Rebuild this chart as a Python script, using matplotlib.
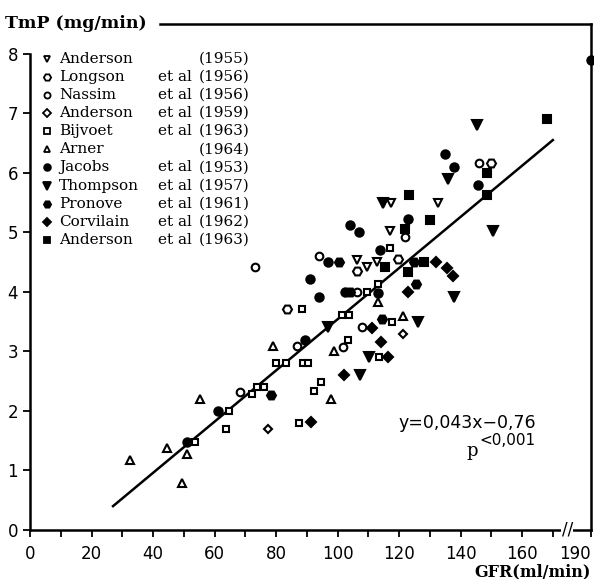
import numpy as np
import matplotlib.pyplot as plt

# Legend rows: author, "et al" flag, year
names = ['Anderson', 'Longson', 'Nassim', 'Anderson', 'Bijvoet', 'Arner',
         'Jacobs', 'Thompson', 'Pronove', 'Corvilain', 'Anderson']
etal = [False, True, True, True, True, False, True, True, True, True, True]
years = ['1955', '1956', '1956', '1959', '1963', '1964',
         '1953', '1957', '1961', '1962', '1963']

# GFR (ml/min) and TmP (mg/min) per study
anderson55_x = [106.3, 109.6, 112.8, 117.0, 117.5, 132.7]
anderson55_y = [4.53, 4.41, 4.50, 5.03, 5.50, 5.50]
longson_x = [83.6, 106.3, 119.7, 150.0]
longson_y = [3.71, 4.35, 4.56, 6.17]
nassim_x = [68.3, 73.2, 86.8, 94.0, 101.8, 106.3, 108.0, 122.0, 146.0]
nassim_y = [2.32, 4.41, 3.09, 4.60, 3.07, 3.99, 3.41, 4.92, 6.17]
anderson59_x = [77.4, 121.3]
anderson59_y = [1.69, 3.29]
bijvoet_x = [53.7, 64.7, 63.7, 72.2, 73.8, 76.1, 80.0, 83.2, 88.5, 88.8, 90.4,
             87.5, 92.4, 94.6, 103.4, 101.4, 103.7, 109.6, 113.2, 117.1, 113.5, 117.7]
bijvoet_y = [1.48, 2.00, 1.69, 2.28, 2.40, 2.40, 2.80, 2.80, 3.71, 2.80, 2.80,
             1.80, 2.33, 2.48, 3.20, 3.61, 3.61, 3.99, 4.13, 4.73, 2.90, 3.49]
arner_x = [32.5, 44.6, 49.3, 51.0, 55.3, 79.0, 97.9, 98.9, 113.2, 121.3]
arner_y = [1.18, 1.37, 0.79, 1.27, 2.20, 3.09, 2.20, 3.00, 3.83, 3.60]
jacobs_x = [51.2, 61.0, 89.4, 91.1, 94.0, 96.9, 102.5, 104.0, 107.0, 113.8,
            113.2, 123.0, 135.0, 137.9, 145.7, 190.0]
jacobs_y = [1.48, 2.00, 3.20, 4.21, 3.91, 4.50, 4.00, 5.12, 5.00, 4.70,
            3.98, 5.22, 6.31, 6.09, 5.80, 7.89]
thompson_x = [96.9, 107.3, 110.2, 126.2, 137.9, 114.8, 136.0, 145.4, 150.6]
thompson_y = [3.41, 2.60, 2.90, 3.49, 3.91, 5.50, 5.89, 6.80, 5.03]
pronove_x = [78.3, 100.5, 104.0, 114.5, 124.9, 125.5]
pronove_y = [2.26, 4.50, 4.00, 3.55, 4.50, 4.14]
corvilain_x = [91.4, 102.1, 111.2, 114.1, 116.4, 122.9, 132.0, 135.6, 137.6]
corvilain_y = [1.81, 2.60, 3.39, 3.15, 2.90, 3.99, 4.50, 4.40, 4.26]
anderson63_x = [115.4, 122.9, 122.0, 123.3, 128.1, 130.0, 148.6, 148.6, 168.1]
anderson63_y = [4.41, 4.33, 5.05, 5.62, 4.50, 5.20, 6.00, 5.62, 6.91]

# regression printed on the chart
slope, intercept = 0.043, -0.76
fit_range = [27, 170]

series = [(anderson55_x, anderson55_y), (longson_x, longson_y), (nassim_x, nassim_y),
          (anderson59_x, anderson59_y), (bijvoet_x, bijvoet_y), (arner_x, arner_y),
          (jacobs_x, jacobs_y), (thompson_x, thompson_y), (pronove_x, pronove_y),
          (corvilain_x, corvilain_y), (anderson63_x, anderson63_y)]
styles = [('v', False, 6), ('H', False, 6.5), ('o', False, 5.5), ('D', False, 4.5),
          ('s', False, 5), ('^', False, 6), ('o', True, 6), ('v', True, 6.5),
          ('H', True, 6.5), ('D', True, 5), ('s', True, 5.5)]


# broken x axis: 170 -> 190 squeezed
def fwd(x):
    x = np.asarray(x, float)
    return np.where(x <= 170, x, 170 + (x - 170) * 0.62)


def inv(x):
    x = np.asarray(x, float)
    return np.where(x <= 170, x, 170 + (x - 170) / 0.62)


fig = plt.figure(figsize=(5.94, 5.79), dpi=100)
ax = fig.add_axes([30 / 594, 49 / 579, 561 / 594, 506 / 579])
ax.set_xscale('function', functions=(fwd, inv))
ax.set_xlim(0, 190)
ax.set_ylim(0, 8.5)

for (xs, ys), (m, filled, ms) in zip(series, styles):
    ax.plot(xs, ys, linestyle='none', marker=m, markersize=ms,
            markerfacecolor='black' if filled else 'white',
            markeredgecolor='black', markeredgewidth=1.5, clip_on=False, zorder=3)

fx = np.array(fit_range)
ax.plot(fx, slope * fx + intercept, color='black', lw=1.8, zorder=2)

# legend drawn as rows of marker + text columns
for i, ((m, filled, ms), n, e, yr) in enumerate(zip(styles, names, etal, years)):
    yy = 7.92 - i * 0.305
    ax.plot(5.5, yy, linestyle='none', marker=m, markersize=ms * 0.8,
            markerfacecolor='black' if filled else 'white',
            markeredgecolor='black', markeredgewidth=1.3)
    ax.text(9.5, yy, n, fontsize=11, family='DejaVu Serif', va='center')
    if e:
        ax.text(41.5, yy, 'et al', fontsize=11, family='DejaVu Serif', va='center')
    ax.text(55.0, yy, '(' + yr + ')', fontsize=11, family='DejaVu Serif', va='center')

ax.text(164.5, 1.8, 'y=0,043x\u22120,76', fontsize=12.5, ha='right', va='center')
ax.text(145.5, 1.32, 'p', fontsize=13, ha='right', va='center', family='DejaVu Serif')
ax.text(164.5, 1.5, '<0,001', fontsize=11, ha='right', va='center')

# ticks
ax.set_xticks([0, 20, 40, 60, 80, 100, 120, 140, 160, 190])
ax.set_xticks([10, 30, 50, 70, 90, 110, 130, 150, 170], minor=True)
ax.set_yticks(range(0, 9))
ax.tick_params(which='both', direction='out', length=5, width=1.3, labelsize=12)
ax.tick_params(axis='x', pad=6)
ax.get_xticklabels()[-1].set_horizontalalignment('right')

for s in ax.spines.values():
    s.set_linewidth(1.8)
ax.spines['left'].set_bounds(0, 8)
ax.spines['top'].set_bounds(42.3, 190)

# axis break mark
ax.text(177.5, 0, '//', fontsize=12, ha='center', va='center', clip_on=False,
        bbox=dict(facecolor='white', edgecolor='none', pad=0.5), zorder=5)

fig.text(5 / 594, 1 - 23 / 579, 'TmP (mg/min)', fontsize=12.5, fontweight='bold',
         family='DejaVu Serif', ha='left', va='center')
fig.text(591 / 594, 1 - 572 / 579, 'GFR(ml/min)', fontsize=11.5, fontweight='bold',
         family='DejaVu Serif', ha='right', va='center')

fig.savefig('out.png', dpi=100)
